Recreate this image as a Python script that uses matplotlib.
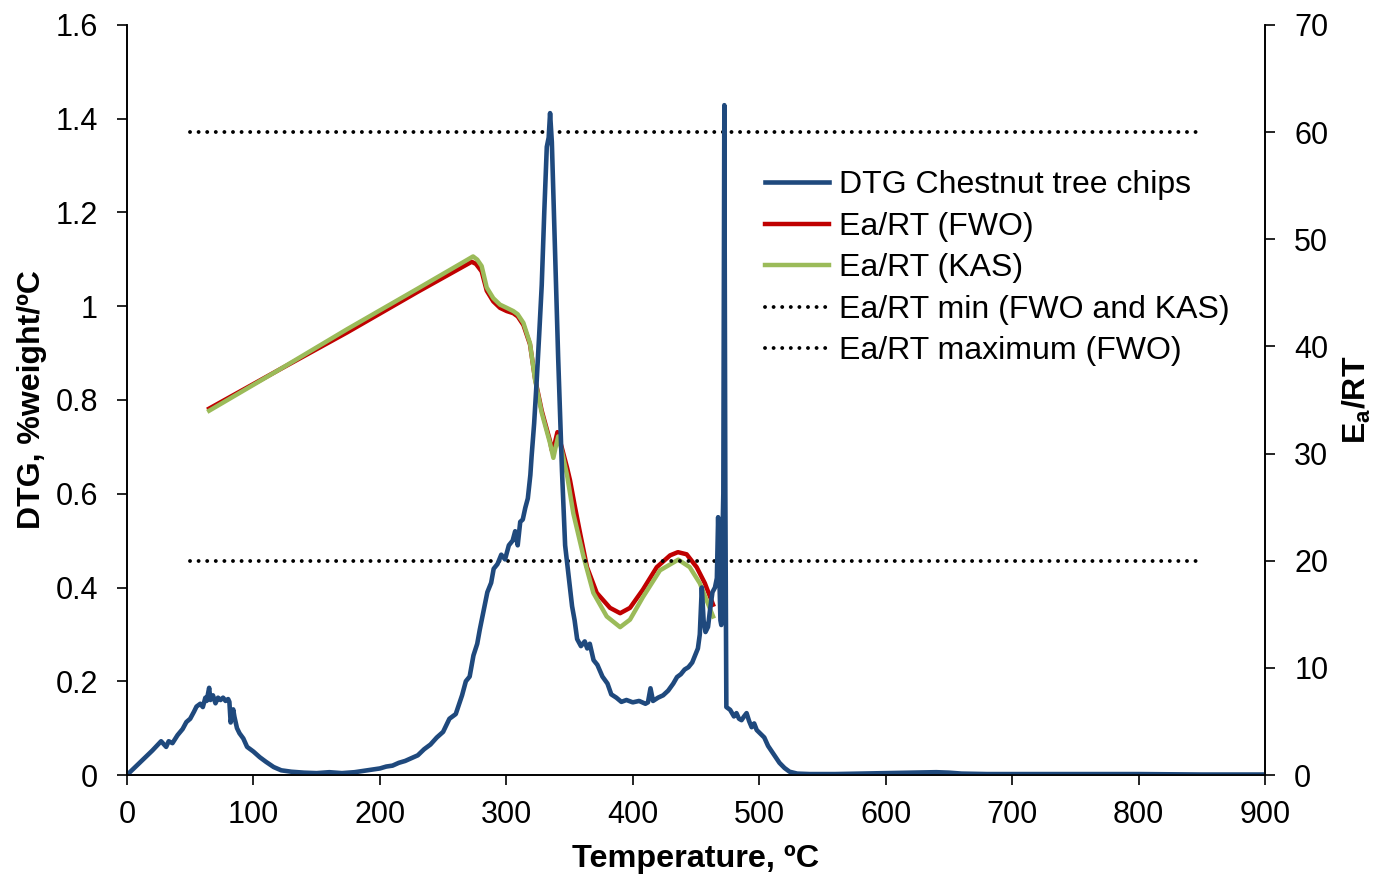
import matplotlib
matplotlib.use("Agg")
import matplotlib.pyplot as plt
from matplotlib.ticker import FuncFormatter, MultipleLocator

plt.rcParams['font.family'] = ['Liberation Sans', 'DejaVu Sans']
plt.rcParams['mathtext.fontset'] = 'custom'
plt.rcParams['mathtext.rm'] = 'Liberation Sans:bold'
plt.rcParams['mathtext.bf'] = 'Liberation Sans:bold'

# DTG of chestnut tree chips
dtg_t = [0, 10, 20, 27, 29, 31, 33, 36, 40, 44, 47, 50, 53, 55, 58, 60, 62, 63, 65, 66,
         68, 70, 72, 74, 76, 78, 80, 81, 82, 84, 85, 87, 89, 92, 95, 100, 105, 110, 116, 122,
         130, 140, 150, 160, 170, 180, 190, 200, 205, 210, 215, 220, 225, 230, 235, 240, 245,
         250, 255, 260, 265, 268, 271, 274, 277, 279, 282, 285, 288, 290, 293, 296, 299, 302,
         305, 307, 309, 311, 313, 315, 317, 319, 320, 322, 324, 326, 328, 330, 332, 333.5,
         334.6, 336, 338.5, 341, 344, 346.5, 349, 352, 354, 356, 359, 362, 364, 366, 369, 372,
         376, 380, 383, 387, 391, 395, 400, 405, 410, 412, 414, 416, 420, 424, 428, 432, 435,
         438, 441, 444, 447, 450, 451.5, 453, 454.6, 456, 457.5, 459.5, 461, 463, 465, 466.5,
         467.5, 468.5, 469.3, 470, 470.8, 471.6, 472.4, 473.2, 474, 477, 480, 482, 484, 486,
         488, 490, 492, 494, 496, 498, 501, 504, 507, 510, 513, 516, 520, 524, 530, 540, 560,
         580, 600, 620, 640, 650, 660, 680, 700, 750, 800, 850, 900]
dtg = [0, 0.026, 0.052, 0.072, 0.066, 0.06, 0.072, 0.068, 0.085, 0.098, 0.113, 0.12, 0.135,
       0.146, 0.152, 0.145, 0.165, 0.158, 0.186, 0.16, 0.17, 0.153, 0.165, 0.16, 0.165, 0.158,
       0.162, 0.156, 0.112, 0.14, 0.124, 0.1, 0.089, 0.078, 0.06, 0.05, 0.038, 0.028, 0.017,
       0.01, 0.007, 0.005, 0.004, 0.006, 0.004, 0.006, 0.01, 0.014, 0.018, 0.02, 0.026, 0.03,
       0.036, 0.042, 0.055, 0.065, 0.08, 0.092, 0.12, 0.13, 0.17, 0.2, 0.21, 0.255, 0.28, 0.31,
       0.35, 0.39, 0.41, 0.44, 0.45, 0.47, 0.46, 0.49, 0.5, 0.52, 0.49, 0.54, 0.545, 0.57, 0.59,
       0.64, 0.68, 0.75, 0.84, 0.94, 1.045, 1.2, 1.34, 1.36, 1.412, 1.35, 1.12, 0.89, 0.65,
       0.49, 0.43, 0.36, 0.33, 0.29, 0.275, 0.285, 0.27, 0.28, 0.245, 0.235, 0.21, 0.195, 0.172,
       0.165, 0.156, 0.16, 0.155, 0.158, 0.152, 0.155, 0.185, 0.158, 0.165, 0.17, 0.18, 0.195,
       0.209, 0.215, 0.225, 0.23, 0.24, 0.26, 0.27, 0.3, 0.4, 0.33, 0.305, 0.316, 0.35, 0.39,
       0.4, 0.42, 0.55, 0.42, 0.33, 0.32, 0.49, 0.6, 1.429, 0.6, 0.145, 0.139, 0.125, 0.132,
       0.12, 0.117, 0.125, 0.132, 0.115, 0.102, 0.11, 0.096, 0.088, 0.08, 0.062, 0.05, 0.038,
       0.026, 0.015, 0.007, 0.003, 0.002, 0.002, 0.003, 0.004, 0.005, 0.006, 0.005, 0.003,
       0.002, 0.002, 0.002, 0.002, 0.001, 0.001]

# Ea/RT by FWO
fwo_t = [65, 120, 174, 230, 265, 272.6, 276, 280.5, 284.5, 289.7, 295, 300.3, 305.5, 309,
         313.5, 318.7, 322.7, 328, 334.5, 336, 338, 340.4, 344, 348, 350.4, 354, 358.3, 363.8,
         371.5, 382, 390, 397.8, 408, 419, 429.5, 435.7, 442.6, 450.5, 457, 463.5]
fwo = [34.2, 37.8, 41.3, 45.1, 47.4, 47.9, 47.7, 47.0, 45.2, 44.2, 43.6, 43.3, 43.1, 42.8,
       42.0, 40.2, 37.0, 34.0, 31.2, 30.3, 30.8, 32.0, 30.5, 28.7, 27.5, 25.2, 22.6, 19.4,
       17.0, 15.6, 15.1, 15.6, 17.3, 19.4, 20.5, 20.8, 20.6, 19.4, 17.9, 15.9]

# Ea/RT by KAS
kas_t = [65, 120, 174, 230, 265, 273.7, 277, 280.5, 284.5, 289.7, 295, 300.3, 305.5, 309,
         313.5, 318.7, 322.7, 328, 334.5, 337.2, 339, 341, 344, 348, 353, 361, 368.8, 379.4,
         390, 397.8, 408, 421.5, 436, 445, 453, 463.5]
kas = [34.0, 37.8, 41.6, 45.4, 47.8, 48.4, 48.1, 47.5, 45.5, 44.5, 43.9, 43.6, 43.3, 43.0,
       42.2, 40.3, 36.9, 33.8, 31.0, 29.6, 30.6, 31.6, 30.2, 28.0, 24.4, 20.4, 17.0, 14.8,
       13.8, 14.5, 16.6, 19.1, 20.1, 19.4, 17.9, 14.8]

ref_t = [50, 850]
ea_min = [20, 20]
ea_max = [60, 60]

fig = plt.figure(figsize=(13.77, 8.77), dpi=100)
ax = fig.add_axes([0.0922, 0.1163, 0.8265, 0.8552])
ax2 = ax.twinx()
ax.set_zorder(ax2.get_zorder() + 1)
ax.patch.set_visible(False)

l1, = ax.plot(dtg_t, dtg, color='#1F497D', lw=3.3, label='DTG Chestnut tree chips')
l2, = ax2.plot(fwo_t, fwo, color='#C00000', lw=3.2, label='Ea/RT (FWO)')
l3, = ax2.plot(kas_t, kas, color='#9BBB59', lw=3.2, label='Ea/RT (KAS)')
l4, = ax2.plot(ref_t, ea_min, color='black', lw=2.8, ls=(0, (0.01, 2.2)),
               dash_capstyle='round', label='Ea/RT min (FWO and KAS)')
l5, = ax2.plot(ref_t, ea_max, color='black', lw=2.8, ls=(0, (0.01, 2.2)),
               dash_capstyle='round', label='Ea/RT maximum (FWO)')

ax.set_xlim(0, 900)
ax.set_ylim(0, 1.6)
ax2.set_ylim(0, 70)
ax.xaxis.set_major_locator(MultipleLocator(100))
ax.yaxis.set_major_locator(MultipleLocator(0.2))
ax2.yaxis.set_major_locator(MultipleLocator(10))
ax.yaxis.set_major_formatter(FuncFormatter(lambda v, p: f'{v:g}'))

for a in (ax, ax2):
    a.spines['top'].set_visible(False)
    for s in a.spines.values():
        s.set_linewidth(1.2)
    a.tick_params(direction='out', length=7, width=1.2, labelsize=22, pad=14)
ax.tick_params(axis='x', pad=11)

ax.set_xlabel('Temperature, ºC', fontsize=23.3, fontweight='bold', labelpad=10)
ax.set_ylabel('DTG, %weight/ºC', fontsize=23, fontweight='bold', labelpad=6)
ax2.set_ylabel(r'E$_{\mathrm{a}}$/RT', fontsize=23, fontweight='bold', labelpad=9)

ax.legend(handles=[l1, l2, l3, l4, l5], loc='upper left', bbox_to_anchor=(0.561, 0.806),
          frameon=False, fontsize=23, handlelength=2.0, handletextpad=0.3,
          borderpad=0, borderaxespad=0, labelspacing=0.36)

fig.savefig('out.png', dpi=100)
